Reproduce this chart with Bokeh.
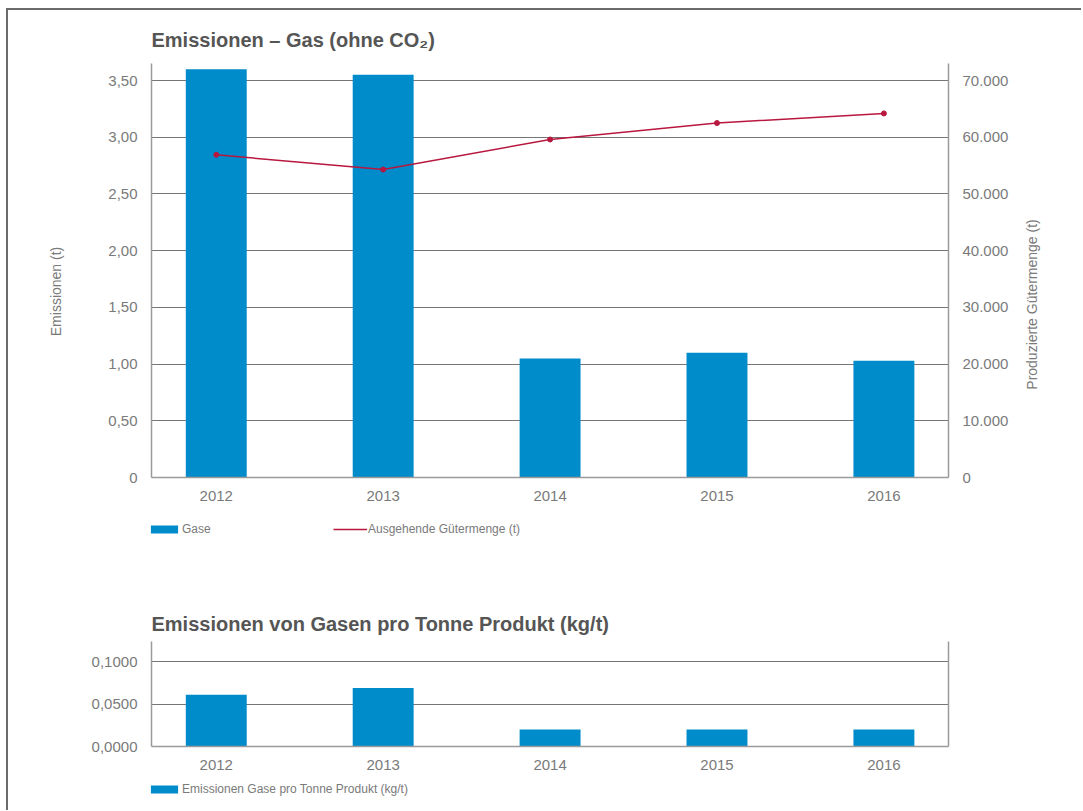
import math

from bokeh.embed import file_html
from bokeh.layouts import column, row
from bokeh.models import (ColumnDataSource, FixedTicker, Label, Legend,
                          LegendItem, LinearAxis, Range1d, Spacer)
from bokeh.plotting import figure
from bokeh.resources import INLINE

# ---- data -------------------------------------------------------------
years = [2012, 2013, 2014, 2015, 2016]
year_labels = ["2012", "2013", "2014", "2015", "2016"]

gas_emissions_t = [3.60, 3.55, 1.05, 1.10, 1.03]          # Gase (t)
goods_output_t = [56900, 54300, 59600, 62500, 64200]      # Ausgehende Gütermenge (t)
gas_per_tonne = [0.061, 0.069, 0.020, 0.020, 0.020]       # kg/t

emis_ticks = [0, 0.5, 1.0, 1.5, 2.0, 2.5, 3.0, 3.5]
emis_tick_labels = ["0", "0,50", "1,00", "1,50", "2,00", "2,50", "3,00", "3,50"]
goods_ticks = [0, 10000, 20000, 30000, 40000, 50000, 60000, 70000]
goods_tick_labels = ["0", "10.000", "20.000", "30.000", "40.000", "50.000",
                     "60.000", "70.000"]
ratio_ticks = [0, 0.05, 0.1]
ratio_tick_labels = ["0,0000", "0,0500", "0,1000"]

# ---- styling ------------------------------------------------------------
FONT = "Liberation Sans"
BLUE = "#008bca"
RED = "#b8173f"
TEXT = "#7a7a7a"
TITLE = "#555555"
GRID = "#767676"
AXIS = "#9a9a9a"

WIDTH = 1073
SIDE_L, SIDE_R = 70, 68            # side strips that hold the axis titles
X_START, X_END = 2011.612, 2016.387
BAR_W = 0.365


def bare(width, height):
    """An axis-less figure whose frame fills the whole canvas."""
    s = figure(width=width, height=height, output_backend="svg",
               toolbar_location=None, tools="", min_border=0,
               x_axis_location=None, y_axis_location=None,
               x_range=Range1d(-10, -9), y_range=Range1d(-10, -9))
    s.frame_align = False
    s.outline_line_color = None
    s.grid.visible = False
    return s


def style_axis(ax, size="15px"):
    ax.axis_line_color = AXIS
    ax.axis_line_width = 1.5
    ax.major_tick_line_color = None
    ax.minor_tick_line_color = None
    ax.major_label_text_font = FONT
    ax.major_label_text_font_size = size
    ax.major_label_text_color = TEXT
    ax.major_label_standoff = 8


def chart(width, height, y_end, borders, title=None):
    left, right, top_, bottom_ = borders
    p = figure(width=width, height=height, output_backend="svg",
               toolbar_location=None, tools="",
               x_range=Range1d(X_START, X_END), y_range=Range1d(0, y_end),
               min_border_left=left, min_border_right=right,
               min_border_top=top_, min_border_bottom=bottom_,
               title=title)
    p.outline_line_color = None
    if title:
        p.title.text_font = FONT
        p.title.text_font_size = "20px"
        p.title.text_font_style = "bold"
        p.title.text_color = TITLE
        p.title.align = "left"
        p.title.standoff = 14
    p.xgrid.grid_line_color = None
    p.ygrid.grid_line_color = GRID
    p.ygrid.grid_line_width = 1
    p.xaxis.ticker = FixedTicker(ticks=years)
    p.xaxis.major_label_overrides = dict(zip(years, year_labels))
    style_axis(p.xaxis[0], "15px")
    style_axis(p.yaxis[0])
    p.xaxis.major_label_standoff = 7
    return p


def legend_strip(height, entries, label_width=20, spacing=0):
    """A narrow strip carrying a horizontal legend below a chart."""
    s = bare(WIDTH, height)
    items = []
    for kind, text, ys in entries:
        # drawn from the chart's data, outside this strip's visible range
        if kind == "bar":
            r = s.vbar(x=years, top=ys, width=BAR_W, fill_color=BLUE, line_color=None)
        else:
            r = s.line(x=years, y=ys, line_color=RED, line_width=1.5)
        items.append(LegendItem(label=text, renderers=[r]))
    s.add_layout(Legend(items=items, location="center_left", margin=139,
                        orientation="horizontal",
                        glyph_width=34, glyph_height=10, label_height=10,
                        label_width=label_width, spacing=spacing,
                        label_standoff=1, padding=0,
                        label_text_font=FONT, label_text_font_size="12px",
                        label_text_color=TEXT, border_line_color=None,
                        background_fill_alpha=0))
    return s


def axis_title(width, height, text, x, y):
    s = bare(width, height)
    s.add_layout(Label(x=x, y=y, x_units="screen", y_units="screen",
                       text=text, angle=math.pi / 2,
                       text_align="center", text_baseline="middle",
                       text_font=FONT, text_font_size="14px", text_color=TEXT))
    return s


# ---- upper chart: emissions (t) and outgoing goods (t) -------------------
title_strip = bare(WIDTH, 45)
title_strip.add_layout(Label(x=143, y=16, x_units="screen", y_units="screen",
                             text="Emissionen – Gas (ohne CO₂)",
                             text_align="left", text_baseline="alphabetic",
                             text_font=FONT, text_font_size="20px",
                             text_font_style="bold", text_color=TITLE))

CHART_W = WIDTH - SIDE_L - SIDE_R
top = chart(CHART_W, 450, 3.65, (73, 65, 8, 28))
top.yaxis.ticker = FixedTicker(ticks=emis_ticks)
top.ygrid.ticker = FixedTicker(ticks=emis_ticks)
top.yaxis.major_label_overrides = dict(zip(emis_ticks, emis_tick_labels))

top.extra_y_ranges = {"goods": Range1d(0, 73000)}
right_axis = LinearAxis(y_range_name="goods",
                        ticker=FixedTicker(ticks=goods_ticks),
                        major_label_overrides=dict(zip(goods_ticks, goods_tick_labels)))
style_axis(right_axis)
top.add_layout(right_axis, "right")

src = ColumnDataSource(dict(year=years, gas=gas_emissions_t, goods=goods_output_t))
top.vbar(x="year", top="gas", width=BAR_W, source=src,
         fill_color=BLUE, line_color=None)
top.line(x="year", y="goods", source=src, y_range_name="goods",
         line_color=RED, line_width=1.5)
top.scatter(x="year", y="goods", source=src, y_range_name="goods",
            size=5, fill_color=RED, line_color=RED)

left_title = axis_title(SIDE_L, 450, "Emissionen (t)", 47, 214)
right_title = axis_title(SIDE_R, 450, "Produzierte Gütermenge (t)", 18, 201)

top_legend = legend_strip(47, [("bar", "Gase", gas_emissions_t),
                               ("line", "Ausgehende Gütermenge (t)", goods_output_t)],
                          label_width=145, spacing=6)

# ---- lower chart: emissions per tonne of product (kg/t) ------------------
bottom = chart(WIDTH, 223, 0.124, (143, 133, 89, 29),
               "Emissionen von Gasen pro Tonne Produkt (kg/t)")
bottom.yaxis.ticker = FixedTicker(ticks=ratio_ticks)
bottom.ygrid.ticker = FixedTicker(ticks=ratio_ticks)
bottom.yaxis.major_label_overrides = dict(zip(ratio_ticks, ratio_tick_labels))
bottom_right = LinearAxis(ticker=FixedTicker(ticks=[]))
style_axis(bottom_right)
bottom.add_layout(bottom_right, "right")

src2 = ColumnDataSource(dict(year=years, ratio=gas_per_tonne))
bottom.vbar(x="year", top="ratio", width=BAR_W, source=src2,
            fill_color=BLUE, line_color=None)

bottom_legend = legend_strip(28, [("bar", "Emissionen Gase pro Tonne Produkt (kg/t)",
                                   gas_per_tonne)])

page = column(title_strip, row(left_title, top, right_title), top_legend,
              bottom, bottom_legend, Spacer(width=WIDTH, height=7),
              margin=(8, 0, 0, 6),
              styles={"border-left": "2px solid #6b6b6b",
                      "border-top": "2px solid #6b6b6b"})

open("out.html", "w").write(file_html(page, INLINE))
